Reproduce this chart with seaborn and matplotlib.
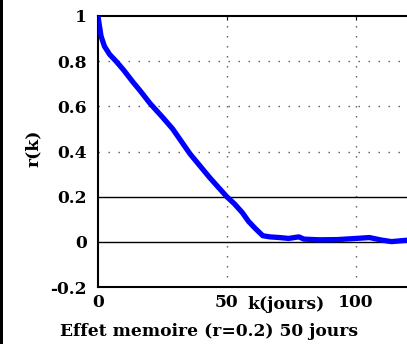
import numpy as np
import pandas as pd
import matplotlib
matplotlib.use("Agg")
import matplotlib.pyplot as plt
import seaborn as sns
from matplotlib.patches import Rectangle

# Data
k_days = [0, 0.5, 1.2, 2.5, 4.5, 7, 10, 13.6, 16.3, 20.2, 25.2, 29, 35.7, 43.4, 50,
          53, 56, 58.5, 61, 64, 66.7, 70.5, 74, 78, 80, 86, 93, 101.5, 105.4, 110, 114, 119.8]
r_k = [1.0, 0.96, 0.91, 0.866, 0.83, 0.80, 0.76, 0.707, 0.67, 0.613, 0.55, 0.50, 0.39, 0.284, 0.2,
       0.168, 0.13, 0.09, 0.06, 0.027, 0.022, 0.019, 0.015, 0.022, 0.012, 0.009, 0.010, 0.016,
       0.019, 0.008, 0.001, 0.007]
x_ticks = [0, 50, 100]
x_tick_labels = ["0", "50", "100"]
y_ticks = [-0.2, 0, 0.2, 0.4, 0.6, 0.8, 1]
y_tick_labels = ["-0.2", "0", "0.2", "0.4", "0.6", "0.8", "1"]
solid_levels = [0, 0.2]
dotted_levels = [0.4, 0.6, 0.8]
dotted_x = [50, 100]

sns.set_style("white")
plt.rcParams['font.family'] = ['DejaVu Serif']
plt.rcParams['font.weight'] = 'bold'
plt.rcParams['text.color'] = 'black'
plt.rcParams['axes.labelcolor'] = 'black'
plt.rcParams['xtick.color'] = 'black'
plt.rcParams['ytick.color'] = 'black'

df = pd.DataFrame({"k": k_days, "r": r_k})

fig = plt.figure(figsize=(4.07, 3.44), dpi=100)
ax = fig.add_axes([98/407, 57/344, 1 - 98/407, 271/344])

for y in dotted_levels:
    ax.axhline(y, color="#555555", lw=1.0, linestyle=(0, (1, 6.2)), zorder=1)
for x in dotted_x:
    ax.axvline(x, color="#555555", lw=1.0, linestyle=(0, (1, 6.2)), zorder=1)
for y in solid_levels:
    ax.axhline(y, color="black", lw=1.0, zorder=1)

sns.lineplot(data=df, x="k", y="r", ax=ax, color="#0000ff", lw=3.8, zorder=3)

fs = 12.3
ax.set_xlim(0, 120)
ax.set_ylim(-0.2, 1)
ax.set_xticks(x_ticks)
ax.set_xticklabels(x_tick_labels, fontsize=fs, fontweight='bold')
ax.set_yticks(y_ticks)
ax.set_yticklabels(y_tick_labels, fontsize=fs, fontweight='bold')
ax.tick_params(axis='both', direction='in', length=3, width=0.8, pad=5, top=True, colors='black')
ax.tick_params(axis='y', pad=8)

for s in ["left", "bottom", "top"]:
    ax.spines[s].set_color("black")
    ax.spines[s].set_linewidth(1.5)
ax.spines["right"].set_visible(False)

ax.set_xlabel("k(jours)", fontsize=fs, fontweight='bold', color='black')
ax.xaxis.set_label_coords(0.608, -0.065)
ax.xaxis.label.set_va('center')
ax.set_ylabel("r(k)", fontsize=fs, fontweight='bold', color='black')
ax.yaxis.set_label_coords(-0.183, 0.51)

fig.text(60/407, 1 - 332/344, "Effet memoire (r=0.2) 50 jours", fontsize=fs,
         fontweight='bold', ha='left', va='center', color='black')

fig.add_artist(Rectangle((0, 0), 3/407, 1, transform=fig.transFigure,
                         facecolor='black', edgecolor='none'))

fig.savefig("out.png", dpi=100)
